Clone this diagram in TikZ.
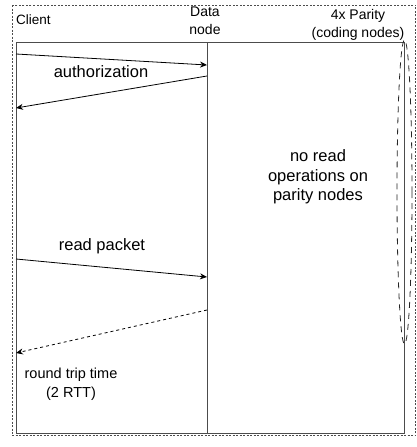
\documentclass[tikz,border=0pt]{standalone}
\usepackage{fontspec}
\setmainfont{Liberation Sans}
\usetikzlibrary{arrows.meta,positioning}

\begin{document}
\begin{tikzpicture}[x=1pt,y=-1pt,
  msg/.style={-{Stealth[length=7pt,width=6pt]},line width=0.8pt},
  lane/.style={black!70,line width=0.9pt},
  biglbl/.style={font=\fontsize{16.5}{19.5}\selectfont,align=center,inner sep=0pt},
  hdr/.style={font=\fontsize{14}{18}\selectfont,align=center,inner sep=0pt}]
 \useasboundingbox (0,0) rectangle (417,447);
 % outer frame
 \draw[black!70,dash pattern=on 2pt off 1.5pt] (12,5) rectangle (415.5,435.5);
 % lanes
 \draw[lane] (16,42) rectangle (404,433);
 \draw[lane] (207,42) -- (207,433);
 \draw[black!85,line width=0.8pt,dash pattern=on 6pt off 5pt] (404.5,192) ellipse (7.5 and 152);
 % headers
 \node[hdr,anchor=west,font=\fontsize{13.5}{16}\selectfont] (client) at (16,20) {Client};
 \node[hdr] (data) at (205,21) {Data\\node};
 \node[hdr] (parity) at (358,25) {4x Parity\\(coding nodes)};
 % message end points
 \coordinate (c1) at (16,54);  \coordinate (d1) at (207,65);
 \coordinate (d2) at (207,76); \coordinate (c2) at (16,108);
 \coordinate (c3) at (16,259); \coordinate (d3) at (207,277);
 \coordinate (d4) at (207,310); \coordinate (c4) at (16,353);
 % messages
 \draw[msg] (c1) -- (d1);
 \draw[msg] (d2) -- (c2);
 \draw[msg] (c3) -- (d3);
 \draw[msg,dashed] (d4) -- (c4);
 % labels
 \node[biglbl] (auth) at (101,72) {authorization};
 \node[biglbl] (read) at (102,246) {read packet};
 \node[hdr,font=\fontsize{14.5}{19}\selectfont] (rtt) at (71,384) {round trip time\\(2 RTT)};
 \node[biglbl] (noread) at (318,177) {no read\\operations on\\parity nodes};
\end{tikzpicture}
\end{document}
